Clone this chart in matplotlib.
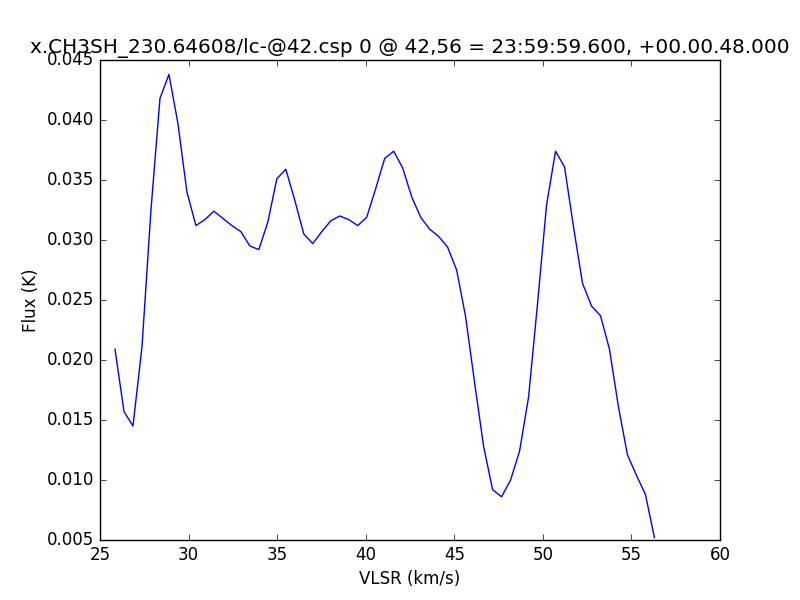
import matplotlib

matplotlib.use("Agg")
import matplotlib.pyplot as plt

# channel velocities (km/s)
vlsr = [
    25.847, 26.355, 26.862, 27.370, 27.877, 28.385, 28.892, 29.400, 29.907, 30.415,
    30.922, 31.430, 31.937, 32.445, 32.952, 33.460, 33.967, 34.475, 34.982, 35.490,
    35.997, 36.505, 37.012, 37.520, 38.027, 38.535, 39.042, 39.550, 40.057, 40.565,
    41.072, 41.580, 42.087, 42.595, 43.102, 43.610, 44.117, 44.625, 45.132, 45.640,
    46.147, 46.655, 47.162, 47.670, 48.177, 48.685, 49.192, 49.700, 50.207, 50.715,
    51.222, 51.730, 52.237, 52.745, 53.252, 53.760, 54.267, 54.775, 55.282, 55.790,
    56.297,
]

# flux (K)
flux = [
    0.0209, 0.0157, 0.0145, 0.0211, 0.0325, 0.0418, 0.0438, 0.0397, 0.0340, 0.0312,
    0.0317, 0.0324, 0.0318, 0.0312, 0.0307, 0.0295, 0.0292, 0.0315, 0.0351, 0.0359,
    0.0333, 0.0305, 0.0297, 0.0307, 0.0316, 0.0320, 0.0317, 0.0312, 0.0319, 0.0343,
    0.0368, 0.0374, 0.0360, 0.0336, 0.0319, 0.0309, 0.0303, 0.0294, 0.0275, 0.0236,
    0.0181, 0.0128, 0.0092, 0.0086, 0.0100, 0.0124, 0.0169, 0.0247, 0.0329, 0.0374,
    0.0361, 0.0311, 0.0264, 0.0245, 0.0237, 0.0209, 0.0161, 0.0121, 0.0104, 0.0088,
    0.0052,
]

title = "x.CH3SH_230.64608/lc-@42.csp 0 @ 42,56 = 23:59:59.600, +00.00.48.000"

plt.style.use("classic")
plt.rcParams.update({"figure.facecolor": "white", "savefig.facecolor": "white"})

fig, ax = plt.subplots(figsize=(8, 6), dpi=100)
fig.subplots_adjust(left=0.125, right=0.9, bottom=0.1, top=0.9)

ax.plot(vlsr, flux, color="b", linewidth=1.0)
ax.set_xlim(25, 60)
ax.set_ylim(0.005, 0.045)
ax.set_xlabel("VLSR (km/s)")
ax.set_ylabel("Flux (K)")
ax.set_title(title)

fig.savefig("out.png", dpi=100)
